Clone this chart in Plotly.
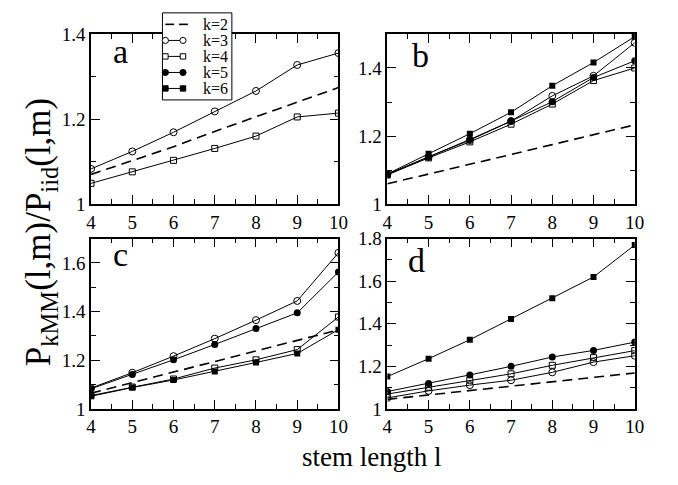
import plotly.graph_objects as go
from plotly.subplots import make_subplots

stem_length = [4, 5, 6, 7, 8, 9, 10]
series_names = ["k=2", "k=3", "k=4", "k=5", "k=6"]

# Panel a (only k=2, k=3, k=4)
a_k2 = [1.070, 1.102, 1.135, 1.171, 1.205, 1.239, 1.274]
a_k3 = [1.083, 1.124, 1.169, 1.218, 1.266, 1.327, 1.355]
a_k4 = [1.049, 1.076, 1.103, 1.131, 1.160, 1.205, 1.214]

# Panel b
b_k2 = [1.060, 1.088, 1.117, 1.146, 1.175, 1.204, 1.233]
b_k3 = [1.087, 1.139, 1.188, 1.244, 1.318, 1.377, 1.474]
b_k4 = [1.086, 1.136, 1.183, 1.235, 1.294, 1.363, 1.400]
b_k5 = [1.088, 1.139, 1.190, 1.244, 1.301, 1.372, 1.421]
b_k6 = [1.089, 1.148, 1.207, 1.270, 1.348, 1.416, 1.492]

# Panel c
c_k2 = [1.065, 1.108, 1.152, 1.195, 1.238, 1.282, 1.325]
c_k3 = [1.086, 1.149, 1.217, 1.289, 1.365, 1.444, 1.642]
c_k4 = [1.055, 1.090, 1.123, 1.168, 1.202, 1.244, 1.378]
c_k5 = [1.083, 1.142, 1.202, 1.265, 1.331, 1.395, 1.563]
c_k6 = [1.052, 1.088, 1.119, 1.154, 1.191, 1.228, 1.326]

# Panel d
d_k2 = [1.045, 1.066, 1.087, 1.107, 1.128, 1.148, 1.169]
d_k3 = [1.052, 1.085, 1.112, 1.135, 1.172, 1.220, 1.250]
d_k4 = [1.070, 1.102, 1.135, 1.165, 1.205, 1.241, 1.274]
d_k5 = [1.082, 1.120, 1.160, 1.200, 1.244, 1.275, 1.314]
d_k6 = [1.152, 1.236, 1.325, 1.422, 1.520, 1.620, 1.770]

panel_labels = ["a", "b", "c", "d"]
y_ranges = [[1, 1.4], [1, 1.5], [1, 1.7], [1, 1.8]]
y_tickvals = [[1, 1.2, 1.4], [1, 1.2, 1.4], [1, 1.2, 1.4, 1.6], [1, 1.2, 1.4, 1.6, 1.8]]
y_ticktext = [["1", "1.2", "1.4"], ["1", "1.2", "1.4"], ["1", "1.2", "1.4", "1.6"],
              ["1", "1.2", "1.4", "1.6", "1.8"]]
x_tickvals = [4, 5, 6, 7, 8, 9, 10]

FONT = "Liberation Serif, Times New Roman, DejaVu Serif, serif"
BLACK = "black"

styles = {
    "k=2": dict(mode="lines", line=dict(color=BLACK, width=1.6, dash="10px,6px")),
    "k=3": dict(mode="lines+markers", line=dict(color=BLACK, width=1),
                marker=dict(symbol="circle-open", size=7, color=BLACK, line=dict(width=1, color=BLACK))),
    "k=4": dict(mode="lines+markers", line=dict(color=BLACK, width=1),
                marker=dict(symbol="square-open", size=6, color=BLACK, line=dict(width=1, color=BLACK))),
    "k=5": dict(mode="lines+markers", line=dict(color=BLACK, width=1),
                marker=dict(symbol="circle", size=7, color=BLACK)),
    "k=6": dict(mode="lines+markers", line=dict(color=BLACK, width=1),
                marker=dict(symbol="square", size=6, color=BLACK)),
}

panels = [
    {"k=2": a_k2, "k=3": a_k3, "k=4": a_k4},
    {"k=2": b_k2, "k=3": b_k3, "k=4": b_k4, "k=5": b_k5, "k=6": b_k6},
    {"k=2": c_k2, "k=3": c_k3, "k=4": c_k4, "k=5": c_k5, "k=6": c_k6},
    {"k=2": d_k2, "k=3": d_k3, "k=4": d_k4, "k=5": d_k5, "k=6": d_k6},
]

fig = make_subplots(rows=2, cols=2)

W, H = 678, 485
x_doms = [[88 / W, 341 / W], [391 / W, 644 / W]]
y_doms = [[1 - 203 / H, 1 - 25 / H], [1 - 417 / H, 1 - 239 / H]]

for i, pdata in enumerate(panels):
    r, c = i // 2 + 1, i % 2 + 1
    for name in series_names:
        if name not in pdata:
            continue
        fig.add_trace(go.Scatter(x=stem_length, y=pdata[name], name=name,
                                 legendgroup=name, showlegend=False,
                                 **styles[name]), row=r, col=c)

axis_common = dict(showline=True, linecolor=BLACK, linewidth=1.5, mirror="ticks",
                   ticks="inside", ticklen=9, tickwidth=1, tickcolor=BLACK,
                   showgrid=False, zeroline=False,
                   tickfont=dict(family=FONT, size=19, color=BLACK))

for i in range(4):
    r, c = i // 2 + 1, i % 2 + 1
    fig.update_xaxes(range=[4, 10], tickvals=x_tickvals, domain=x_doms[c - 1],
                     minor=dict(ticks="inside", ticklen=5, tickwidth=1, tickcolor=BLACK,
                                tick0=4, dtick=0.5),
                     **axis_common, row=r, col=c)
    fig.update_yaxes(range=y_ranges[i], tickvals=y_tickvals[i], ticktext=y_ticktext[i],
                     domain=y_doms[r - 1],
                     minor=dict(ticks="inside", ticklen=5, tickwidth=1, tickcolor=BLACK,
                                tick0=1, dtick=0.1),
                     **axis_common, row=r, col=c)

letter_pos = [(0.12, 0.899), (0.134, 0.876), (0.12, 0.904), (0.117, 0.871)]
for i, lab in enumerate(panel_labels):
    suffix = "" if i == 0 else str(i + 1)
    fig.add_annotation(text=lab, xref=f"x{suffix} domain", yref=f"y{suffix} domain",
                       x=letter_pos[i][0], y=letter_pos[i][1], showarrow=False,
                       xanchor="center", yanchor="middle",
                       font=dict(family=FONT, size=34, color=BLACK))

fig.add_annotation(text="P<sub>kMM</sub>(l,m)/P<sub>iid</sub>(l,m)", xref="paper", yref="paper",
                   x=37 / W, y=1 - 232 / H, textangle=-90, showarrow=False,
                   xanchor="center", yanchor="middle",
                   font=dict(family=FONT, size=35, color=BLACK))
fig.add_annotation(text="stem length l", xref="paper", yref="paper",
                   x=375 / W, y=1 - 467 / H, showarrow=False,
                   xanchor="center", yanchor="middle",
                   font=dict(family=FONT, size=27, color=BLACK))

# ---- hand-drawn legend (box with line samples and end markers) ----
def px(x, y):
    return x / W, 1 - y / H

shapes = []
bx0, by0 = px(161, 3)
bx1, by1 = px(232, 94)
shapes.append(dict(type="rect", xref="paper", yref="paper", x0=bx0, y0=by1, x1=bx1, y1=by0,
                   line=dict(color=BLACK, width=1), fillcolor="white", layer="above"))
row_y = [15, 31.8, 48.5, 65.3, 82]
lx0, lx1 = 164, 182
for name, ry in zip(series_names, row_y):
    if name == "k=2":
        for sx0, sx1 in [(164, 173), (178, 187)]:
            a0, b0 = px(sx0, ry)
            a1, _ = px(sx1, ry)
            shapes.append(dict(type="line", xref="paper", yref="paper", x0=a0, y0=b0, x1=a1, y1=b0,
                               line=dict(color=BLACK, width=1.6), layer="above"))
    else:
        a0, b0 = px(lx0, ry)
        a1, _ = px(lx1, ry)
        shapes.append(dict(type="line", xref="paper", yref="paper", x0=a0, y0=b0, x1=a1, y1=b0,
                           line=dict(color=BLACK, width=1), layer="above"))
        filled = name in ("k=5", "k=6")
        kind = "circle" if name in ("k=3", "k=5") else "rect"
        r = 3.2 if kind == "circle" else 2.8
        for cx in (lx0, lx1):
            q0, w0 = px(cx - r, ry + r)
            q1, w1 = px(cx + r, ry - r)
            shapes.append(dict(type=kind, xref="paper", yref="paper", x0=q0, y0=w0, x1=q1, y1=w1,
                               line=dict(color=BLACK, width=1),
                               fillcolor=BLACK if filled else "white", layer="above"))
    tx, ty = px(201, ry)
    fig.add_annotation(text=name, xref="paper", yref="paper", x=tx, y=ty, showarrow=False,
                       xanchor="left", yanchor="middle", height=15, borderpad=0,
                       font=dict(family=FONT, size=16, color=BLACK))

fig.update_layout(
    width=W, height=H, margin=dict(l=0, r=0, t=0, b=0),
    paper_bgcolor="white", plot_bgcolor="white",
    font=dict(family=FONT, color=BLACK),
    showlegend=False,
    shapes=shapes,
)

fig.write_html("out.html", config={"displayModeBar": False},
               post_script="document.body.style.margin='0';")
